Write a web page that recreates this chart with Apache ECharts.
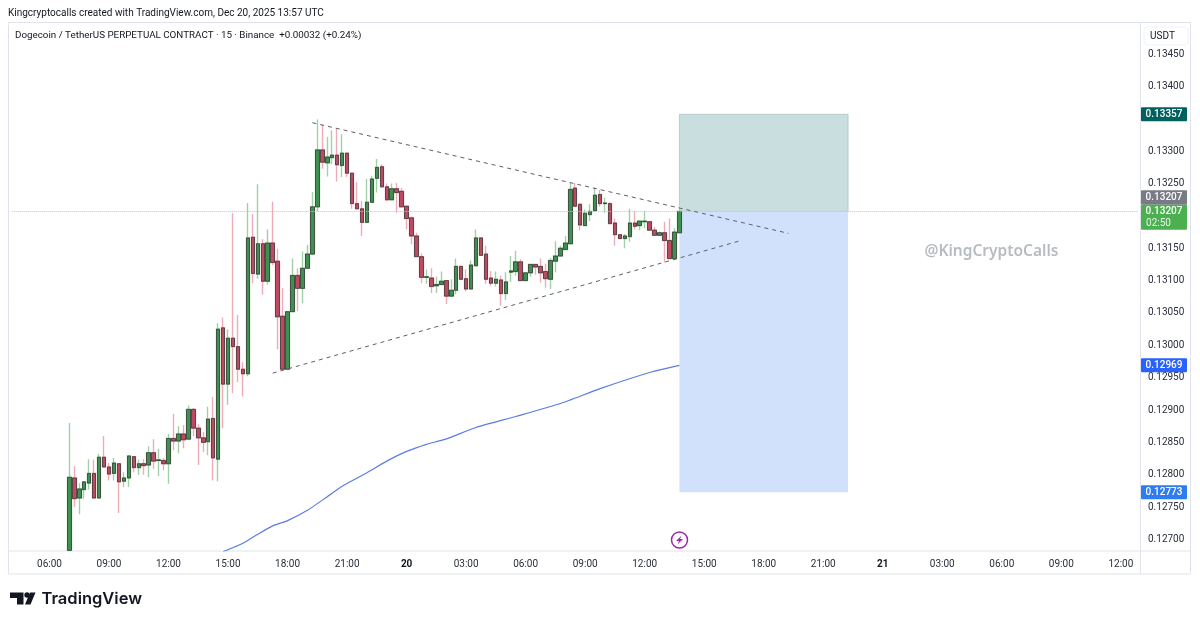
<!DOCTYPE html>
<html><head><meta charset="utf-8">
<style>html,body{margin:0;padding:0;background:#fff}#c{width:1200px;height:624px}</style>
<script src="https://cdn.jsdelivr.net/npm/echarts@6/dist/echarts.min.js"></script>
</head><body><div id="c"></div>
<script>
const opens=[0.12683,0.12795,0.12764,0.12777,0.12787,0.12802,0.12764,0.12827,0.12812,0.12802,0.12817,0.12790,0.12795,0.12828,0.12811,0.12817,0.12815,0.12834,0.12822,0.12822,0.12817,0.12856,0.12852,0.12863,0.12855,0.12901,0.12872,0.12857,0.12851,0.12887,0.12824,0.13027,0.12940,0.13011,0.12998,0.12963,0.12956,0.13167,0.13110,0.13157,0.13099,0.13158,0.13130,0.13045,0.12963,0.13052,0.13108,0.13088,0.13119,0.13141,0.13214,0.13302,0.13282,0.13290,0.13294,0.13278,0.13297,0.13266,0.13219,0.13211,0.13190,0.13221,0.13258,0.13276,0.13245,0.13225,0.13242,0.13238,0.13215,0.13197,0.13169,0.13137,0.13105,0.13104,0.13092,0.13094,0.13100,0.13076,0.13085,0.13122,0.13103,0.13087,0.13123,0.13166,0.13141,0.13104,0.13096,0.13101,0.13080,0.13113,0.13114,0.13129,0.13100,0.13112,0.13125,0.13122,0.13114,0.13102,0.13130,0.13138,0.13148,0.13157,0.13243,0.13218,0.13185,0.13202,0.13208,0.13233,0.13219,0.13219,0.13189,0.13171,0.13165,0.13168,0.13189,0.13185,0.13191,0.13191,0.13178,0.13170,0.13174,0.13162,0.13134,0.13174];
const closes=[0.12796,0.12763,0.12778,0.12789,0.12802,0.12764,0.12827,0.12812,0.12801,0.12818,0.12789,0.12795,0.12829,0.12811,0.12817,0.12814,0.12834,0.12821,0.12823,0.12817,0.12856,0.12852,0.12863,0.12854,0.12901,0.12872,0.12857,0.12850,0.12886,0.12826,0.13025,0.12940,0.13011,0.12998,0.12963,0.12956,0.13166,0.13111,0.13157,0.13099,0.13158,0.13128,0.13044,0.12963,0.13052,0.13108,0.13088,0.13119,0.13141,0.13214,0.13302,0.13283,0.13291,0.13294,0.13279,0.13297,0.13266,0.13219,0.13211,0.13190,0.13221,0.13257,0.13275,0.13245,0.13225,0.13242,0.13236,0.13214,0.13196,0.13169,0.13137,0.13105,0.13106,0.13091,0.13094,0.13099,0.13076,0.13085,0.13122,0.13102,0.13087,0.13124,0.13166,0.13139,0.13102,0.13096,0.13102,0.13080,0.13098,0.13115,0.13129,0.13100,0.13112,0.13125,0.13121,0.13112,0.13103,0.13131,0.13138,0.13150,0.13158,0.13241,0.13215,0.13186,0.13204,0.13207,0.13232,0.13219,0.13220,0.13188,0.13171,0.13165,0.13169,0.13189,0.13184,0.13192,0.13192,0.13178,0.13170,0.13174,0.13162,0.13134,0.13175,0.13207];
const highs=[0.12880,0.12813,0.12787,0.12790,0.12824,0.12823,0.12832,0.12860,0.12818,0.12826,0.12818,0.12804,0.12830,0.12828,0.12823,0.12824,0.12844,0.12855,0.12840,0.12826,0.12863,0.12894,0.12875,0.12877,0.12907,0.12903,0.12878,0.12866,0.12905,0.12920,0.13034,0.13043,0.13025,0.13204,0.13047,0.12974,0.13220,0.13203,0.13249,0.13164,0.13179,0.13222,0.13149,0.13088,0.13052,0.13134,0.13119,0.13145,0.13155,0.13237,0.13349,0.13341,0.13322,0.13332,0.13335,0.13326,0.13298,0.13267,0.13252,0.13223,0.13257,0.13262,0.13288,0.13280,0.13250,0.13250,0.13251,0.13243,0.13216,0.13199,0.13174,0.13142,0.13117,0.13119,0.13106,0.13114,0.13101,0.13102,0.13134,0.13123,0.13117,0.13131,0.13179,0.13167,0.13154,0.13115,0.13114,0.13108,0.13113,0.13138,0.13146,0.13133,0.13113,0.13125,0.13126,0.13134,0.13126,0.13135,0.13161,0.13154,0.13169,0.13251,0.13251,0.13218,0.13210,0.13218,0.13244,0.13240,0.13228,0.13221,0.13196,0.13172,0.13172,0.13211,0.13208,0.13192,0.13208,0.13192,0.13183,0.13176,0.13191,0.13196,0.13181,0.13208];
const lows=[0.12683,0.12750,0.12739,0.12763,0.12777,0.12764,0.12764,0.12812,0.12791,0.12791,0.12741,0.12781,0.12781,0.12804,0.12800,0.12800,0.12796,0.12809,0.12798,0.12807,0.12786,0.12838,0.12833,0.12841,0.12855,0.12860,0.12815,0.12835,0.12830,0.12791,0.12790,0.12872,0.12908,0.12926,0.12943,0.12921,0.12952,0.13096,0.13103,0.13078,0.13094,0.13124,0.12994,0.12962,0.12962,0.13052,0.13053,0.13065,0.13119,0.13141,0.13207,0.13273,0.13261,0.13280,0.13253,0.13260,0.13260,0.13211,0.13210,0.13169,0.13190,0.13221,0.13236,0.13243,0.13223,0.13225,0.13205,0.13213,0.13179,0.13156,0.13136,0.13096,0.13095,0.13081,0.13081,0.13094,0.13064,0.13076,0.13079,0.13102,0.13084,0.13087,0.13123,0.13139,0.13095,0.13092,0.13091,0.13061,0.13070,0.13098,0.13108,0.13100,0.13100,0.13106,0.13109,0.13097,0.13089,0.13087,0.13113,0.13138,0.13148,0.13157,0.13215,0.13178,0.13185,0.13192,0.13208,0.13214,0.13205,0.13187,0.13154,0.13164,0.13150,0.13160,0.13179,0.13178,0.13181,0.13177,0.13169,0.13169,0.13128,0.13133,0.13132,0.13174];
const firstBar=11;
const emaBars=[42,46,49,52,55,59,63,66,71,75,79,83,86,88,93,101,110,118,128,134];
const emaValues=[0.12681,0.12694,0.12708,0.12721,0.12729,0.12745,0.12766,0.12782,0.12803,0.12821,0.12836,0.12847,0.12853,0.12858,0.12873,0.12890,0.12910,0.12933,0.12958,0.12969];
const upperTrendBars=[60,156], upperTrendPrices=[0.13344,0.13173];
const lowerTrendBars=[52,146], lowerTrendPrices=[0.12957,0.13161];
const entryPrice=0.13207, targetPrice=0.13357, stopPrice=0.12773, emaLast=0.12969;
const tradeStartBar=134, tradeEndBar=168;
const priceTicks=[0.13450,0.13400,0.13300,0.13250,0.13150,0.13100,0.13050,0.13000,0.12950,0.12900,0.12850,0.12800,0.12750,0.12700];
const barCount=227, firstHourMinutes=4*60+15, dayLabels={1:'20',2:'21'};

const UI='Roboto, sans-serif';
const categories=[];
for(let i=0;i<barCount;i++){
  const t=firstHourMinutes+i*15, m=t%1440, day=Math.floor(t/1440);
  const hh=String(Math.floor(m/60)).padStart(2,'0'), mm=String(m%60).padStart(2,'0');
  categories.push(m===0?dayLabels[day]:hh+':'+mm);
}
const pad=Array(firstBar).fill('-');
const wickData=pad.concat(opens.map((o,i)=>[o,closes[i],lows[i],highs[i]]));
const bodyData=pad.concat(opens.map((o,i)=>[o,closes[i],Math.min(o,closes[i]),Math.max(o,closes[i])]));
const pairs=(a,b)=>a.map((x,i)=>[x,b[i]]);
const GREEN='#3f8f50', RED='#bd4a60', GW='#9fd0a6', RW='#eeabb8';

const chart=echarts.init(document.getElementById('c'),null,{renderer:'canvas'});
chart.setOption({
  animation:false,
  backgroundColor:'#fff',
  grid:{left:12.3,width:1125.9,top:22.5,height:528.5,containLabel:false},
  xAxis:{type:'category',data:categories,boundaryGap:true,
    axisLine:{show:false},axisTick:{show:false},splitLine:{show:false},
    axisLabel:{color:'#2a2e39',fontFamily:UI,fontSize:10,margin:8,hideOverlap:false,
      interval:(i,v)=>/^\d\d$/.test(v)||(/:00$/.test(v)&&parseInt(v)%3===0),
      formatter:v=>/^\d\d$/.test(v)?'{b|'+v+'}':v,
      rich:{b:{fontWeight:'bold',fontFamily:UI,fontSize:10,color:'#131722'}}}},
  yAxis:{type:'value',position:'right',min:0.126821,max:0.134989,scale:true,
    axisLine:{show:false},axisTick:{show:false},splitLine:{show:false},
    axisLabel:{color:'#2a2e39',fontFamily:UI,fontSize:10,margin:9.8,customValues:priceTicks,formatter:v=>v.toFixed(5),hideOverlap:false}},
  series:[
    {type:'line',name:'trade',data:[],z:1,silent:true,
      markArea:{silent:true,precision:5,data:[
        [{xAxis:tradeStartBar,yAxis:entryPrice,itemStyle:{color:'#c9dfdf',borderColor:'#b7cccc',borderWidth:1}},{xAxis:tradeEndBar,yAxis:targetPrice}],
        [{xAxis:tradeStartBar,yAxis:stopPrice,itemStyle:{color:'#d1e1fc'}},{xAxis:tradeEndBar,yAxis:entryPrice}]
      ]},
      markLine:{silent:true,symbol:'none',precision:5,label:{show:false},lineStyle:{color:'#a5d6a7',type:'dotted',width:1},data:[{yAxis:entryPrice}]}},
    {type:'line',name:'EMA',data:pairs(emaBars,emaValues),smooth:0.2,showSymbol:false,symbol:'none',z:2,silent:true,lineStyle:{color:'#5b7ce6',width:1.2}},
    {type:'candlestick',name:'wick',data:wickData,barWidth:4,z:3,silent:true,clip:true,
      itemStyle:{color:GREEN,color0:RED,borderColor:GW,borderColor0:RW,borderWidth:1.4}},
    {type:'candlestick',name:'body',data:bodyData,barWidth:4,z:4,silent:true,clip:true,
      itemStyle:{color:GREEN,color0:RED,borderColor:'#2b2b2b',borderColor0:'#2b2b2b',borderWidth:0.7}},
    {type:'line',name:'upperTrend',data:pairs(upperTrendBars,upperTrendPrices),showSymbol:false,symbol:'none',z:5,silent:true,lineStyle:{color:'#5d606b',width:1,type:[4,4]}},
    {type:'line',name:'lowerTrend',data:pairs(lowerTrendBars,lowerTrendPrices),showSymbol:false,symbol:'none',z:5,silent:true,lineStyle:{color:'#5d606b',width:1,type:[4,4]}}
  ]
});
const Y=v=>chart.convertToPixel({yAxisIndex:0},v);
const TAGFONT='500 10px '+UI;
function tag(value,fill,label,fg){
  const y=Y(value);
  return [{type:'rect',z:20,shape:{x:1141,y:y-7,width:46,height:14,r:1},style:{fill:fill}},
          {type:'text',z:21,x:1164,y:y+0.5,style:{text:label,fill:fg||'#fff',font:TAGFONT,align:'center',verticalAlign:'middle'}}];
}
const entryY=Y(entryPrice);
const gfx=[
  {type:'rect',z:0,shape:{x:8.5,y:22.5,width:1182,height:551.5},style:{fill:'none',stroke:'#e0e3eb',lineWidth:1}},
  {type:'line',z:0,shape:{x1:8.5,y1:551,x2:1190.5,y2:551},style:{stroke:'#e0e3eb',lineWidth:1}},
  {type:'line',z:0,shape:{x1:1140.5,y1:22.5,x2:1140.5,y2:574},style:{stroke:'#e0e3eb',lineWidth:1}},
  {type:'text',z:21,x:8,y:13.5,style:{text:'Kingcryptocalls created with TradingView.com, Dec 20, 2025 13:57 UTC',fill:'#131722',font:'10px '+UI,verticalAlign:'middle'}},
  {type:'text',z:21,x:15,y:35.5,style:{text:'Dogecoin / TetherUS PERPETUAL CONTRACT · 15 · Binance  +0.00032 (+0.24%)',fill:'#131722',font:'9.8px '+UI,verticalAlign:'middle'}},
  {type:'text',z:21,x:991.5,y:252,style:{text:'@KingCryptoCalls',fill:'#b8bbc3',font:'600 15.5px "Noto Sans", sans-serif',align:'center',verticalAlign:'middle'}},
  {type:'rect',z:20,shape:{x:1144,y:27,width:44,height:18,r:4},style:{fill:'#fff',stroke:'#f0f2f6'}},
  {type:'text',z:21,x:1162.5,y:36.5,style:{text:'USDT',fill:'#131722',font:'10px '+UI,align:'center',verticalAlign:'middle'}},
  ...tag(targetPrice,'#00605e','0.13357'),
  ...tag(emaLast,'#2962ff','0.12969'),
  ...tag(stopPrice,'#2f7cf0','0.12773'),
  {type:'rect',z:20,shape:{x:1141,y:entryY-21,width:46,height:14.5,r:1},style:{fill:'#787b86'}},
  {type:'text',z:21,x:1164,y:entryY-13.5,style:{text:'0.13207',fill:'#fff',font:TAGFONT,align:'center',verticalAlign:'middle'}},
  {type:'rect',z:20,shape:{x:1141,y:entryY-6.5,width:46,height:25,r:1},style:{fill:'#4caf50'}},
  {type:'text',z:21,x:1164,y:entryY,style:{text:'0.13207',fill:'#fff',font:TAGFONT,align:'center',verticalAlign:'middle'}},
  {type:'text',z:21,x:1158.5,y:entryY+12,style:{text:'02:50',fill:'#e6f5e6',font:'10px '+UI,align:'center',verticalAlign:'middle'}},
  {type:'circle',z:21,shape:{cx:679.5,cy:540,r:8},style:{fill:'#fff',stroke:'#9c27b0',lineWidth:1.5}},
  {type:'polygon',z:22,shape:{points:[[681.5,535.5],[676,541],[679,541],[677.5,544.5],[683,539],[680,539]]},style:{fill:'#9c27b0'}},
  {type:'polygon',z:21,shape:{points:[[10,592.5],[23.5,592.5],[23.5,604.5],[17,604.5],[17,598],[10,598]]},style:{fill:'#131722'}},
  {type:'circle',z:21,shape:{cx:27,cy:595,r:2.7},style:{fill:'#131722'}},
  {type:'polygon',z:21,shape:{points:[[30,592.5],[35.5,592.5],[30.5,604.5],[25,604.5]]},style:{fill:'#131722'}},
  {type:'text',z:21,x:41.5,y:599.5,style:{text:'TradingView',fill:'#131722',font:'600 16.5px Inter, sans-serif',verticalAlign:'middle'}}
];
chart.setOption({graphic:gfx});
</script></body></html>
